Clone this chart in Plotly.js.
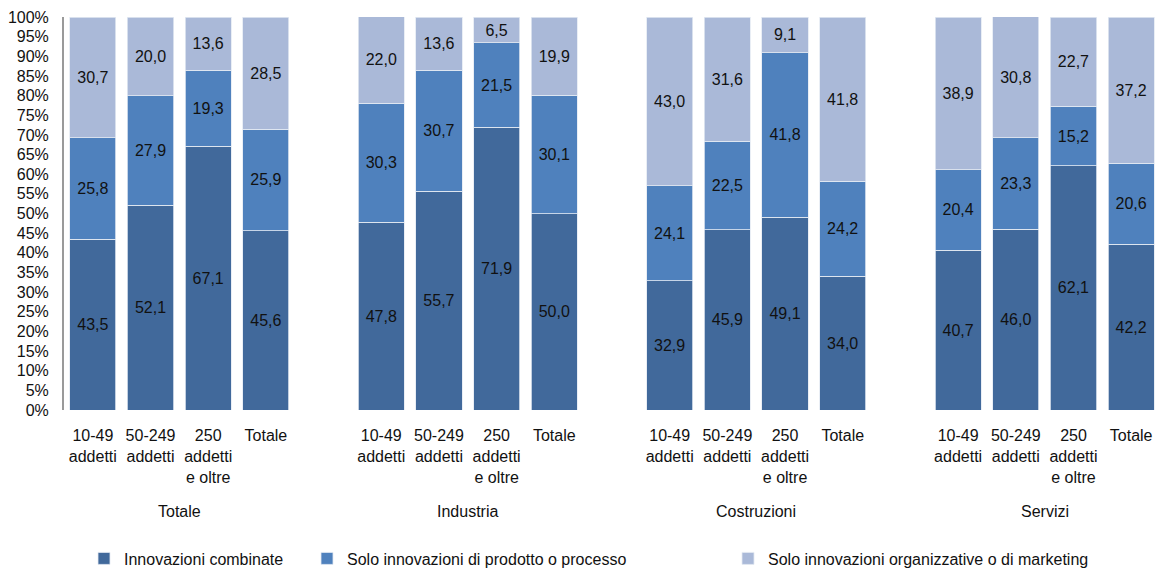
<!DOCTYPE html>
<html>
<head>
<meta charset="utf-8">
<script src="https://cdn.plot.ly/plotly-3.0.1.min.js"></script>
<style>html,body{margin:0;padding:0;background:#fff}#chart{width:1166px;height:570px}</style>
</head>
<body>
<div id="chart"></div>
<script>
// Groups and sub-categories
const groups = ["Totale", "Industria", "Costruzioni", "Servizi"];
const classes = ["10-49<br>addetti", "50-249<br>addetti", "250<br>addetti<br>e oltre", "Totale"];

// Series values (per group, per class)
const combinate = [
  43.5, 52.1, 67.1, 45.6,
  47.8, 55.7, 71.9, 50.0,
  32.9, 45.9, 49.1, 34.0,
  40.7, 46.0, 62.1, 42.2
];
const prodottoProcesso = [
  25.8, 27.9, 19.3, 25.9,
  30.3, 30.7, 21.5, 30.1,
  24.1, 22.5, 41.8, 24.2,
  20.4, 23.3, 15.2, 20.6
];
const organizzativeMarketing = [
  30.7, 20.0, 13.6, 28.5,
  22.0, 13.6, 6.5, 19.9,
  43.0, 31.6, 9.1, 41.8,
  38.9, 30.8, 22.7, 37.2
];
const seriesNames = [
  "Innovazioni combinate",
  "Solo innovazioni di prodotto o processo",
  "Solo innovazioni organizzative o di marketing"
];

// Category positions: one empty slot between groups
const xpos = [];
const xlab = [];
groups.forEach((g, gi) => classes.forEach((c, ci) => { xpos.push(gi * 5 + ci); xlab.push(c); }));
const groupCenters = groups.map((g, gi) => gi * 5 + 1.5);

const FONT = "'Liberation Sans Narrow', 'Arial Narrow', 'Liberation Sans', Arial, sans-serif";
const colors = ["#41699B", "#4F81BD", "#AAB9D8"];
const legendIds = ["legend", "legend2", "legend3"];
const data = [combinate, prodottoProcesso, organizzativeMarketing].map((vals, i) => ({
  type: "bar",
  x: xpos,
  y: vals,
  name: seriesNames[i],
  legend: legendIds[i],
  showlegend: true,
  width: 0.8,
  marker: { color: colors[i], line: { color: "#E4EAF3", width: 0.8 } },
  texttemplate: "%{y:.1f}",
  textposition: "inside",
  insidetextanchor: "middle",
  textangle: 0,
  textfont: { family: FONT, size: 16, color: "#111" },
  hoverinfo: "skip"
}));

const legendCommon = {
  orientation: "h",
  yref: "container",
  xref: "container",
  yanchor: "top",
  y: 0.05,
  xanchor: "left",
  font: { family: FONT, size: 16, color: "#111" },
  bgcolor: "rgba(0,0,0,0)"
};

const layout = {
  width: 1166,
  height: 570,
  showlegend: true,
  margin: { l: 64, r: 6, t: 17, b: 160 },
  paper_bgcolor: "#fff",
  plot_bgcolor: "#fff",
  barmode: "stack",
  separators: ",.",
  font: { family: FONT, size: 16, color: "#111" },
  xaxis: {
    range: [-0.5, 18.5],
    tickvals: xpos,
    ticktext: xlab,
    showgrid: false,
    zeroline: false,
    showline: false,
    ticks: "",
    tickangle: 0,
    automargin: false,
    ticklabelstandoff: 14,
    tickfont: { family: FONT, size: 16, color: "#111" },
    fixedrange: true
  },
  yaxis: {
    range: [0, 100],
    dtick: 5,
    tick0: 0,
    ticksuffix: "%",
    showgrid: false,
    zeroline: false,
    showline: true,
    linecolor: "#9a9a9a",
    linewidth: 2,
    ticks: "",
    automargin: false,
    ticklabelstandoff: 10,
    tickfont: { family: FONT, size: 16, color: "#111" },
    fixedrange: true
  },
  legend: Object.assign({}, legendCommon, { x: 84 / 1166 }),
  legend2: Object.assign({}, legendCommon, { x: 307 / 1166 }),
  legend3: Object.assign({}, legendCommon, { x: 728 / 1166 }),
  annotations: groups.map((g, gi) => ({
    x: groupCenters[gi],
    xref: "x",
    y: -0.257,
    yref: "paper",
    yanchor: "middle",
    text: g,
    showarrow: false,
    font: { family: FONT, size: 16, color: "#111" }
  }))
};

Plotly.newPlot("chart", data, layout, { displayModeBar: false, staticPlot: true });
</script>
</body>
</html>
